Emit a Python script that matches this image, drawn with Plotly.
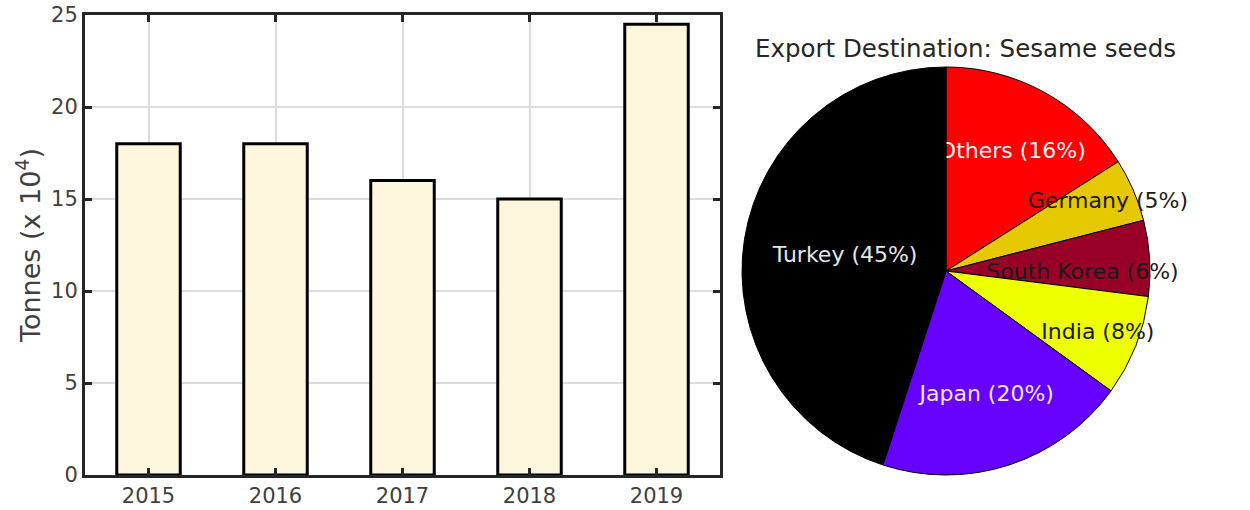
import plotly.graph_objects as go

years = [2015, 2016, 2017, 2018, 2019]
tonnes = [18, 18, 16, 15, 24.5]

destinations = ["Others", "Germany", "South Korea", "India", "Japan", "Turkey"]
shares = [16, 5, 6, 8, 20, 45]
slice_colors = ["#FF0000", "#E6C800", "#990028", "#EEFF00", "#6600FF", "#000000"]
text_colors = ["#F2F2F2", "#1A1A1A", "#1A1A1A", "#1A1A1A", "#EDE6FF", "#E6E6E6"]

W, H = 1250, 510
FONT = "DejaVu Sans"
AX = "#262626"

fig = go.Figure()

fig.add_trace(go.Bar(
    x=years, y=tonnes, width=0.5,
    marker=dict(color="#FCF7DC", line=dict(color="#000000", width=3)),
    xaxis="x", yaxis="y", showlegend=False,
))

fig.add_trace(go.Pie(
    labels=destinations, values=shares,
    sort=False, direction="clockwise", rotation=0,
    marker=dict(colors=slice_colors, line=dict(color="#000000", width=1)),
    texttemplate="%{label} (%{percent:.0%})",
    textposition="inside", insidetextorientation="horizontal",
    insidetextfont=dict(family=FONT, size=22, color=text_colors),
    domain=dict(x=[742 / W, 1150 / W], y=[(H - 475) / H, (H - 67) / H]),
    showlegend=False, hoverinfo="label+percent",
))

fig.update_layout(
    width=W, height=H,
    margin=dict(l=0, r=0, t=0, b=0),
    paper_bgcolor="white", plot_bgcolor="white",
    font=dict(family=FONT, color=AX),
    uniformtext=dict(minsize=22, mode="show"),
    xaxis=dict(
        domain=[85 / W, 720 / W], range=[2014.5, 2019.5],
        tickvals=years, ticktext=[str(y) for y in years],
        ticks="inside", ticklen=7, tickwidth=3, tickcolor=AX,
        showline=True, linewidth=3, linecolor=AX, mirror="ticks",
        showgrid=True, gridcolor="#DCDCDC", gridwidth=2,
        zeroline=False, tickfont=dict(size=21, color="#404040"),
        automargin=False,
    ),
    yaxis=dict(
        domain=[(H - 475) / H, (H - 15) / H], range=[0, 25],
        tickvals=[0, 5, 10, 15, 20, 25],
        ticks="inside", ticklen=7, tickwidth=3, tickcolor=AX,
        showline=True, linewidth=3, linecolor=AX, mirror="ticks",
        showgrid=True, gridcolor="#DCDCDC", gridwidth=2,
        zeroline=False, tickfont=dict(size=21, color="#404040"),
        automargin=False,
    ),
    annotations=[
        dict(
            text="Export Destination: Sesame seeds", x=965 / W, y=(H - 48) / H,
            xref="paper", yref="paper", showarrow=False,
            font=dict(size=24.5, color=AX, family=FONT), xanchor="center", yanchor="middle",
        ),
        dict(
            text="Tonnes (x 10<sup>4</sup>)", x=29 / W, y=(H - 246) / H,
            xref="paper", yref="paper", showarrow=False, textangle=-90,
            font=dict(size=27, color="#404040", family=FONT), xanchor="center", yanchor="middle",
        ),
    ],
)

fig.write_html(
    "out.html",
    config={"displayModeBar": False},
    post_script="document.body.style.margin='0';document.body.style.overflow='hidden';",
)
